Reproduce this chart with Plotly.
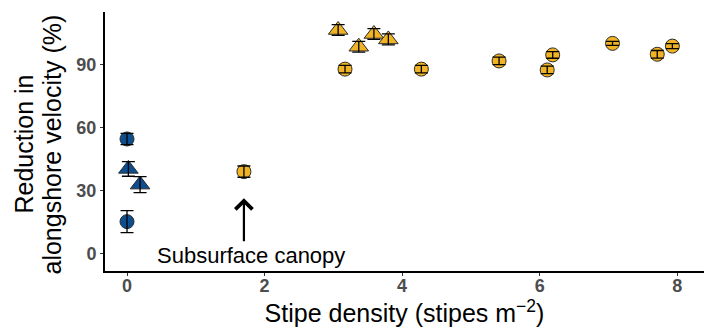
import plotly.graph_objects as go

# Measurements: stipe density, reduction in alongshore velocity, and its error
surface_circle_x = [0.0, 0.0]
surface_circle_y = [54.6, 15.1]
surface_circle_err = [2.7, 5.3]

surface_tri_x = [0.02, 0.19]
surface_tri_y = [40.3, 32.8]
surface_tri_err = [3.5, 3.8]

kelp_circle_x = [1.70, 3.17, 4.28, 5.41, 6.11, 6.19, 7.06, 7.71, 7.93]
kelp_circle_y = [39.0, 88.0, 88.0, 91.9, 87.6, 94.8, 100.3, 95.1, 99.0]
kelp_circle_err = [2.7, 1.8, 1.8, 1.8, 1.8, 1.6, 1.0, 1.8, 1.2]

kelp_tri_x = [3.07, 3.37, 3.59, 3.80]
kelp_tri_y = [106.7, 98.7, 104.8, 102.2]
kelp_tri_err = [2.6, 2.6, 2.6, 2.6]

x_ticks = [0, 2, 4, 6, 8]
y_ticks = [0, 30, 60, 90]

y_title_lines = ["Reduction in", "alongshore velocity (%)"]
x_title = "Stipe density (stipes m<sup>\u22122</sup>)"

# Arrow marking the subsurface canopy point
arrow_x = 1.70
arrow_tip_y = 26.3
arrow_tail_y = 5.0
arrow_label = "Subsurface canopy"
arrow_label_x = 1.81
arrow_label_y = -1.0

BLUE = "#0C4E8E"
GOLD = "#F0B323"
EDGE = "#2b2b2b"
FONT = "Liberation Sans, Arial, Helvetica, sans-serif"

fig = go.Figure()


def add_points(xs, ys, color, symbol, size):
    fig.add_trace(go.Scatter(
        x=xs, y=ys, mode="markers",
        marker=dict(color=color, symbol=symbol, size=size,
                    line=dict(color=EDGE, width=1)),
        showlegend=False, hoverinfo="x+y"))


def add_errors(xs, ys, errs):
    fig.add_trace(go.Scatter(
        x=xs, y=ys, mode="markers",
        marker=dict(color="rgba(0,0,0,0)", size=1),
        error_y=dict(type="data", array=errs, visible=True,
                     color="black", thickness=1.3, width=6.5),
        showlegend=False, hoverinfo="skip"))


add_points(surface_circle_x, surface_circle_y, BLUE, "circle", 14)
add_points(surface_tri_x, surface_tri_y, BLUE, "triangle-up", 17)
add_points(kelp_circle_x, kelp_circle_y, GOLD, "circle", 14)
add_points(kelp_tri_x, kelp_tri_y, GOLD, "triangle-up", 17)

add_errors(surface_circle_x, surface_circle_y, surface_circle_err)
add_errors(surface_tri_x, surface_tri_y, surface_tri_err)
add_errors(kelp_circle_x, kelp_circle_y, kelp_circle_err)
add_errors(kelp_tri_x, kelp_tri_y, kelp_tri_err)

fig.add_annotation(
    x=arrow_x, y=arrow_tip_y, ax=arrow_x, ay=arrow_tail_y,
    xref="x", yref="y", axref="x", ayref="y",
    text="", showarrow=True, arrowhead=4, arrowsize=1.5,
    arrowwidth=2.2, arrowcolor="black")
fig.add_annotation(
    x=arrow_label_x, y=arrow_label_y, xref="x", yref="y",
    text=arrow_label, showarrow=False,
    font=dict(family=FONT, size=22, color="black"))

# Two-line y-axis title, set with tighter line spacing
for line, shift in zip(y_title_lines, [-82, -54]):
    fig.add_annotation(
        x=0, y=0.5, xref="paper", yref="paper",
        xanchor="center", yanchor="middle", xshift=shift, yshift=-3,
        text=line, textangle=-90, showarrow=False,
        font=dict(family=FONT, size=25, color="black"))

axis_common = dict(
    showline=True, linecolor="black", linewidth=2,
    showgrid=False, zeroline=False,
    ticks="outside", ticklen=3, tickwidth=1.2, tickcolor="#333333",
    tickfont=dict(family=FONT, size=18, color="#4D4D4D", weight="bold"),
)

fig.update_xaxes(
    range=[-0.32, 8.39], tickvals=x_ticks, ticktext=[str(v) for v in x_ticks],
    ticklabelstandoff=-6,
    title=dict(text=x_title,
               font=dict(family=FONT, size=25, color="black"), standoff=7),
    **axis_common)
fig.update_yaxes(
    range=[-8.5, 115.3], tickvals=y_ticks, ticktext=[str(v) for v in y_ticks],
    **axis_common)

fig.update_layout(
    width=704, height=332,
    margin=dict(l=105, r=0, t=12, b=61, autoexpand=False),
    paper_bgcolor="white", plot_bgcolor="white",
    font=dict(family=FONT),
)

fig.write_html("out.html")
